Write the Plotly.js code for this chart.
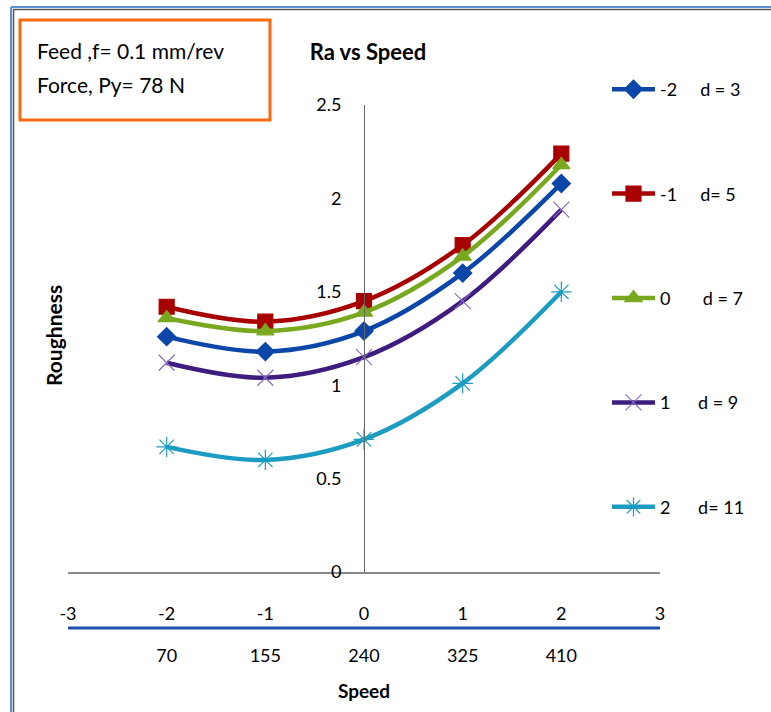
<!DOCTYPE html>
<html>
<head>
<meta charset="utf-8">
<script src="https://cdn.plot.ly/plotly-3.0.1.min.js"></script>
<style>
  html, body { margin: 0; padding: 0; background: #fff; }
  #chart { width: 771px; height: 712px; }
</style>
</head>
<body>
<div id="chart"></div>
<script>
// ---- data ----
const codedSpeed = [-2, -1, 0, 1, 2];
const speedLabels = ['70', '155', '240', '325', '410'];
const axisTicks = [-3, -2, -1, 0, 1, 2, 3];
const yTicks = [0, 0.5, 1, 1.5, 2, 2.5];
const seriesNames = ['-2', '-1', '0', '1', '2'];
const depthLabels = ['d = 3', 'd= 5', 'd = 7', 'd = 9', 'd= 11'];
const ra_d3 = [1.26, 1.18, 1.29, 1.60, 2.08];
const ra_d5 = [1.42, 1.34, 1.45, 1.75, 2.24];
const ra_d7 = [1.36, 1.29, 1.39, 1.69, 2.18];
const ra_d9 = [1.12, 1.04, 1.15, 1.45, 1.94];
const ra_d11 = [0.67, 0.60, 0.71, 1.01, 1.50];

// ---- layout helpers (pixel -> paper) ----
const W = 771, H = 712;
const L = 68, R = 660, T = 105, B = 572;
const px = x => (x - L) / (R - L);
const py = y => (B - y) / (B - T);

const FONT = 'Lato, Liberation Sans, sans-serif';
const nb = n => '\u00a0'.repeat(n);

const styles = [
  { color: '#0b46a8', symbol: 'diamond', size: 14, mcolor: '#0b46a8', gap: 5 },
  { color: '#a80000', symbol: 'square', size: 15, mcolor: '#a80000', gap: 5 },
  { color: '#78a81e', symbol: 'triangle-up', size: 15, mcolor: '#78a81e', gap: 7 },
  { color: '#3f1c80', symbol: 'x-thin-open', size: 16, mcolor: '#8a6cc2', gap: 6 },
  { color: '#1b9cc0', symbol: 'asterisk-open', size: 17, mcolor: '#1b9cc0', gap: 6 }
];
const values = [ra_d3, ra_d5, ra_d7, ra_d9, ra_d11];

const traces = values.map((v, i) => ({
  type: 'scatter',
  mode: 'lines+markers',
  x: codedSpeed,
  y: v,
  name: seriesNames[i] + nb(styles[i].gap) + depthLabels[i],
  legendgroup: 'g' + i,
  line: { color: styles[i].color, width: 4.5, shape: 'spline', smoothing: 1 },
  marker: { symbol: styles[i].symbol, size: styles[i].size, color: styles[i].mcolor,
            line: { color: styles[i].mcolor, width: 1.2 } },
  cliponaxis: false
}));

// secondary speed axis trace (invisible) to host xaxis2
traces.push({
  type: 'scatter', mode: 'markers', x: codedSpeed, y: ra_d3, xaxis: 'x2', yaxis: 'y',
  marker: { opacity: 0 }, showlegend: false, hoverinfo: 'skip'
});

const layout = {
  width: W, height: H,
  margin: { l: L, r: W - R, t: T, b: H - B, pad: 0 },
  paper_bgcolor: '#ffffff',
  plot_bgcolor: '#ffffff',
  font: { family: FONT, size: 18, color: '#000' },
  title: {
    text: '<b>Ra vs Speed</b>',
    font: { family: FONT, size: 22, color: '#000' },
    x: 368 / W, xref: 'container', xanchor: 'center',
    y: 1 - 52 / H, yref: 'container', yanchor: 'middle'
  },
  xaxis: {
    range: [-3, 3], tickvals: axisTicks, ticktext: axisTicks.map(String),
    showgrid: false, zeroline: false, showline: true, linecolor: '#888888', linewidth: 2,
    ticks: '', ticklabelstandoff: 24, tickfont: { family: FONT, size: 18 },
    fixedrange: true
  },
  xaxis2: {
    overlaying: 'x', anchor: 'y', side: 'bottom', range: [-3, 3],
    tickvals: codedSpeed, ticktext: speedLabels,
    showgrid: false, zeroline: false, showline: false, ticks: '',
    ticklabelstandoff: 71, tickfont: { family: FONT, size: 18 },
    title: { text: '<b>Speed</b>', font: { family: FONT, size: 19 }, standoff: 19 },
    fixedrange: true
  },
  yaxis: {
    range: [0, 2.5], tickvals: yTicks, ticktext: yTicks.map(String),
    anchor: 'free', position: 0.5,
    showgrid: false, zeroline: false, showline: true, linecolor: '#666666', linewidth: 1,
    ticks: '', ticklabelstandoff: 19, tickfont: { family: FONT, size: 18 },
    fixedrange: true
  },
  showlegend: true,
  legend: {
    x: px(607), xanchor: 'left', y: py(71), yanchor: 'top',
    font: { family: FONT, size: 18, color: '#000' },
    tracegroupgap: 78, itemwidth: 43, bgcolor: 'rgba(0,0,0,0)', maxheight: 700
  },
  annotations: [
    { xref: 'paper', yref: 'paper', x: px(35), y: py(50), xanchor: 'left', yanchor: 'middle',
      text: 'Feed ,f= 0.1 mm/rev', showarrow: false, font: { family: FONT, size: 21 } },
    { xref: 'paper', yref: 'paper', x: px(35), y: py(85), xanchor: 'left', yanchor: 'middle',
      text: 'Force, Py= 78 N', showarrow: false, font: { family: FONT, size: 21 } },
    { xref: 'paper', yref: 'paper', x: px(53), y: py(336), xanchor: 'center', yanchor: 'middle',
      text: '<b>Roughness</b>', textangle: -90, showarrow: false, font: { family: FONT, size: 21 } }
  ],
  shapes: [
    { type: 'rect', xref: 'paper', yref: 'paper', x0: px(20), x1: px(270), y0: py(120), y1: py(20),
      line: { color: '#f76a10', width: 3 } },
    { type: 'line', xref: 'paper', yref: 'paper', x0: px(68), x1: px(660), y0: py(628), y1: py(628),
      line: { color: '#1e52b0', width: 3 } },
    { type: 'line', xref: 'paper', yref: 'paper', x0: px(11), x1: px(771), y0: py(7), y1: py(7),
      line: { color: '#5b8fd6', width: 2 } },
    { type: 'line', xref: 'paper', yref: 'paper', x0: px(13), x1: px(771), y0: py(9.5), y1: py(9.5),
      line: { color: '#555555', width: 1.5 } },
    { type: 'line', xref: 'paper', yref: 'paper', x0: px(11), x1: px(11), y0: py(7), y1: py(712),
      line: { color: '#5b8fd6', width: 2 } },
    { type: 'line', xref: 'paper', yref: 'paper', x0: px(13.5), x1: px(13.5), y0: py(9.5), y1: py(712),
      line: { color: '#555555', width: 1.5 } }
  ]
};

Plotly.newPlot('chart', traces, layout, { displayModeBar: false, staticPlot: true });
</script>
</body>
</html>
